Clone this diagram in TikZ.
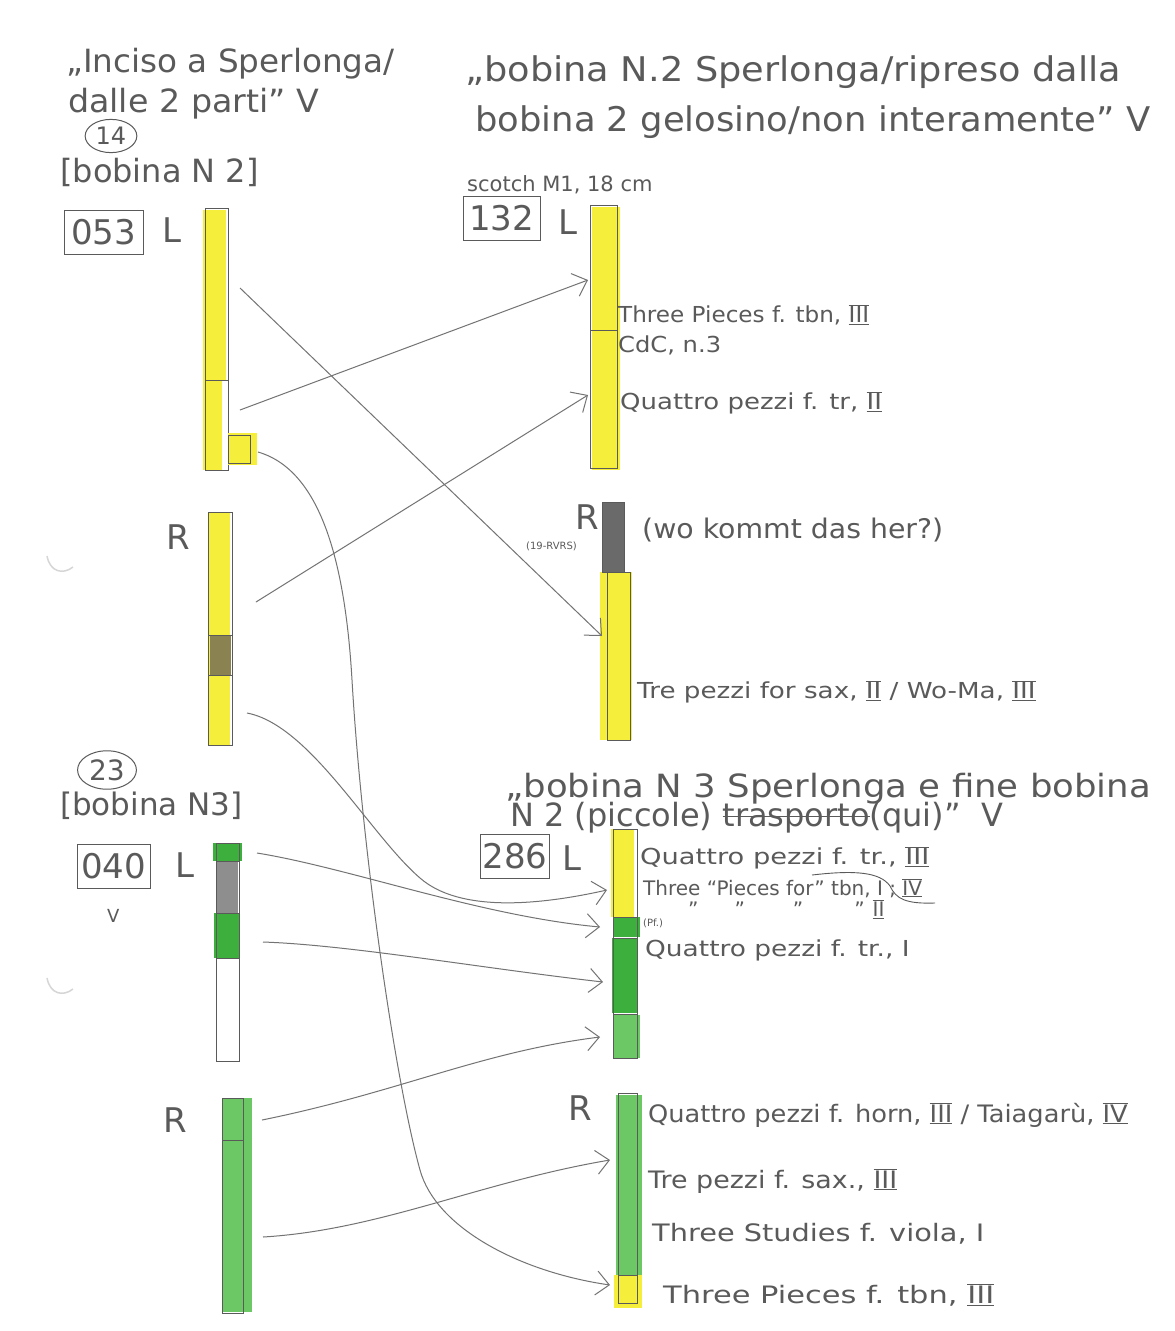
\documentclass[tikz,border=0pt]{standalone}
\usepackage{fontspec}
\usepackage{graphicx}
\setmainfont{DejaVu Sans}
\usetikzlibrary{arrows.meta,shapes.geometric}
\definecolor{pencil}{HTML}{5A5A5A}
\definecolor{hlyellow}{HTML}{F5EE3A}
\definecolor{hlgreen}{HTML}{3CAF3C}
\definecolor{ltgreen}{HTML}{6CC864}
\definecolor{graphite}{HTML}{8E8E8E}
\definecolor{darkgraphite}{HTML}{6A6A6A}
\definecolor{olive}{HTML}{8A8250}
\newcommand\rnum[1]{$\overline{\underline{\mbox{#1}}}$}
\newcommand\strikeout[1]{\setbox0\hbox{#1}\rlap{\raisebox{0.3em}{\rule{\wd0}{0.9pt}}}\box0}
\newcommand\wide[2]{\scalebox{#1}[1]{#2}}
\begin{document}
\begin{tikzpicture}[x=1pt,y=-1pt,
  hand/.style={text=pencil, inner sep=0pt, anchor=west, font=\fontsize{22}{24}\selectfont},
  big/.style={hand, font=\fontsize{24}{26}\selectfont},
  head/.style={hand, font=\fontsize{32}{34}\selectfont},
  numtag/.style={draw=pencil, line width=1pt, text=pencil, inner sep=2pt,
    minimum width=#1, minimum height=44pt, font=\fontsize{34}{36}\selectfont},
  side/.style={text=pencil, inner sep=0pt, font=\fontsize{34}{36}\selectfont},
  ring/.style={draw=pencil, line width=1pt, ellipse, inner sep=3pt, text=pencil},
  tapeedge/.style={draw=pencil, line width=0.8pt},
  link/.style={draw=pencil!85, line width=1pt,
    -{Straight Barb[length=13pt,width=24pt,line width=1pt]}},
]
\fill[white] (0,0) rectangle (1175,1331);
\useasboundingbox (0,0) rectangle (1175,1331);

% punch-hole shadows in the margin
\draw[pencil!25, line width=1.5pt] (47,556) .. controls (50,572) and (63,575) .. (73,567);
\draw[pencil!25, line width=1.5pt] (47,978) .. controls (50,994) and (63,997) .. (73,989);

% ---------- upper left: tape 053 ----------
\node[head] (hdA1) at (66,64) {\wide{1.02}{„Inciso a Sperlonga/}};
\node[head] (hdA2) at (68,104) {\wide{1.04}{dalle 2 parti” V}};
\node[ring, font=\fontsize{24}{26}\selectfont] (c14) at (111,136) {14};
\node[head] (bobA) at (60,172) {[bobina N 2]};
\node[numtag=79pt] (t053) at (103.5,232) {053};
\node[side] (L053) at (172,230) {L};

\fill[hlyellow] (203,210) rectangle (226,380);
\fill[hlyellow] (203,380) rectangle (222,470);
\draw[tapeedge] (205,208) rectangle (228,470);
\draw[tapeedge] (205,380) -- (228,380);
\fill[hlyellow] (228,433) rectangle (257,465);
\draw[tapeedge] (228,435) rectangle (250,463);

\node[side] (R053) at (178,537) {R};
\fill[hlyellow] (208,512) rectangle (230,745);
\fill[olive] (210,635) rectangle (231,675);
\draw[tapeedge] (208,512) rectangle (232,745);
\draw[tapeedge] (208,635) -- (232,635);
\draw[tapeedge] (208,675) -- (232,675);

% ---------- upper right: tape 132 ----------
\node[hand, font=\fontsize{34}{36}\selectfont] (hdB1) at (465,72) {\wide{1.08}{„bobina N.2 Sperlonga/ripreso dalla}};
\node[hand, font=\fontsize{34}{36}\selectfont] (hdB2) at (475,122) {\wide{1.04}{bobina 2 gelosino/non interamente” V}};
\node[hand, font=\fontsize{21}{23}\selectfont] (scotch) at (467,185) {scotch M1, 18 cm};
\node[numtag=77pt] (t132) at (501.5,218.5) {132};
\node[side] (L132) at (568,222) {L};

\fill[hlyellow] (592,207) rectangle (620,470);
\draw[tapeedge] (590,205) rectangle (617,468);
\draw[tapeedge] (590,330) -- (617,330);
\node[hand] (p1) at (618,315) {\wide{1.05}{Three Pieces f. tbn, \rnum{III}}};
\node[hand] (p2) at (618,345) {\wide{1.1}{CdC, n.3}};
\node[hand] (p3) at (620,403) {\wide{1.18}{Quattro pezzi f. tr, \rnum{II}}};

\node[side] (R132) at (587,517) {R};
\node[hand, font=\fontsize{10}{12}\selectfont] (rvrs) at (526,546) {(19-RVRS)};
\fill[darkgraphite] (602,502) rectangle (624,572);
\fill[hlyellow] (600,572) rectangle (632,740);
\draw[tapeedge] (602,502) rectangle (624,572);
\draw[tapeedge] (607,572) rectangle (630,740);
\node[hand, font=\fontsize{27}{29}\selectfont] (woher) at (642,530) {\wide{1.05}{(wo kommt das her?)}};
\node[hand] (p4) at (637,692) {\wide{1.19}{Tre pezzi for sax, \rnum{II} / Wo-Ma, \rnum{III}}};

% ---------- lower left: tape 040 ----------
\node[ring, font=\fontsize{28}{30}\selectfont] (c23) at (107,770) {23};
\node[hand, font=\fontsize{31}{33}\selectfont] (bobB) at (60,806) {[bobina N3]};
\node[numtag=73pt] (t040) at (113.5,866) {040};
\node[side] (L040) at (185,865) {L};
\node[hand, font=\fontsize{18}{20}\selectfont] (tick) at (107,916) {V};

\fill[hlgreen] (213,843) rectangle (242,861);
\fill[graphite] (217,861) rectangle (238,913);
\fill[hlgreen] (214,913) rectangle (240,958);
\draw[tapeedge] (216,843) rectangle (239,1061);
\draw[tapeedge] (216,861) -- (239,861);
\draw[tapeedge] (216,913) -- (239,913);
\draw[tapeedge] (216,958) -- (239,958);

\node[side] (R040) at (175,1120) {R};
\fill[ltgreen] (222,1098) rectangle (252,1312);
\draw[tapeedge] (222,1098) rectangle (243,1313);
\draw[tapeedge] (222,1140) -- (243,1140);

% ---------- lower right: tape 286 ----------
\node[head] (hdC1) at (505,789) {\wide{1.11}{„bobina N 3 Sperlonga e fine bobina}};
\node[head] (hdC2) at (510,818) {N 2 (piccole) \strikeout{trasporto} (qui)” \ V};
\node[numtag=64pt] (t286) at (515,856) {286};
\node[side] (L286) at (572,858) {L};

\fill[hlyellow] (611,829) rectangle (634,917);
\fill[hlgreen] (614,917) rectangle (640,937);
\fill[hlgreen] (612,938) rectangle (637,1013);
\fill[ltgreen] (614,1015) rectangle (640,1058);
\draw[tapeedge] (613,829) rectangle (637,1058);
\draw[tapeedge] (613,917) -- (637,917);
\draw[tapeedge] (613,938) -- (637,938);
\draw[tapeedge] (613,1014) -- (637,1014);
\node[hand] (q1) at (640,858) {\wide{1.24}{Quattro pezzi f. tr., \rnum{III}}};
\node[hand, font=\fontsize{20}{22}\selectfont] (q2) at (643,888) {Three “Pieces for” tbn, I ; \rnum{IV}};
\node[hand, font=\fontsize{20}{22}\selectfont] (q3) at (688,909) {"\hspace{36pt}"\hspace{48pt}"\hspace{51pt}"\hspace{8pt}\rnum{II}};
\coordinate (wv) at (812,875);
\draw[pencil, line width=0.9pt] (wv) .. controls (855,870) and (880,872) .. (890,886)
  .. controls (896,899) and (906,904) .. (935,903);
\node[hand, font=\fontsize{10}{12}\selectfont] (pf) at (643,923) {(Pf.)};
\node[hand] (q4) at (645,950) {\wide{1.2}{Quattro pezzi f. tr., I}};

\node[side] (R286) at (580,1108) {R};
\fill[ltgreen] (616,1095) rectangle (642,1275);
\fill[hlyellow] (614,1275) rectangle (642,1308);
\draw[tapeedge] (618,1093) rectangle (637,1303);
\draw[tapeedge] (618,1275) -- (637,1275);
\node[big] (r1) at (648,1115) {\wide{1.07}{Quattro pezzi f. horn, \rnum{III} / Taiagarù, \rnum{IV}}};
\node[big] (r2) at (648,1181) {\wide{1.12}{Tre pezzi f. sax., \rnum{III}}};
\node[big] (r3) at (652,1234) {\wide{1.2}{Three Studies f. viola, I}};
\node[big] (r4) at (663,1295) {\wide{1.27}{Three Pieces f. tbn, \rnum{III}}};

% ---------- connectors ----------
\coordinate (a1s) at (240,288);  \coordinate (a1e) at (602,636);
\coordinate (a2s) at (240,410);  \coordinate (a2e) at (588,280);
\coordinate (a3s) at (256,602);  \coordinate (a3e) at (588,395);
\coordinate (a4s) at (258,452);  \coordinate (a4e) at (610,1285);
\coordinate (a5s) at (247,713);  \coordinate (a5e) at (607,890);
\coordinate (a6s) at (257,853);  \coordinate (a6e) at (600,927);
\coordinate (a7s) at (263,942);  \coordinate (a7e) at (603,982);
\coordinate (a8s) at (262,1120); \coordinate (a8e) at (600,1037);
\coordinate (a9s) at (263,1237); \coordinate (a9e) at (610,1160);

\draw[link] (a1s) -- (a1e);
\draw[link] (a2s) -- (a2e);
\draw[link] (a3s) -- (a3e);
\draw[link] (a4s) .. controls (320,470) and (345,560) .. (352,680)
  .. controls (362,850) and (395,1080) .. (420,1170)
  .. controls (436,1228) and (520,1272) .. (a4e);
\draw[link] (a5s) .. controls (310,725) and (370,835) .. (420,878)
  .. controls (460,913) and (540,905) .. (a5e);
\draw[link] (a6s) .. controls (350,868) and (480,916) .. (a6e);
\draw[link] (a7s) .. controls (350,945) and (480,968) .. (a7e);
\draw[link] (a8s) .. controls (400,1092) and (480,1052) .. (a8e);
\draw[link] (a9s) .. controls (380,1230) and (480,1182) .. (a9e);
\end{tikzpicture}
\end{document}
